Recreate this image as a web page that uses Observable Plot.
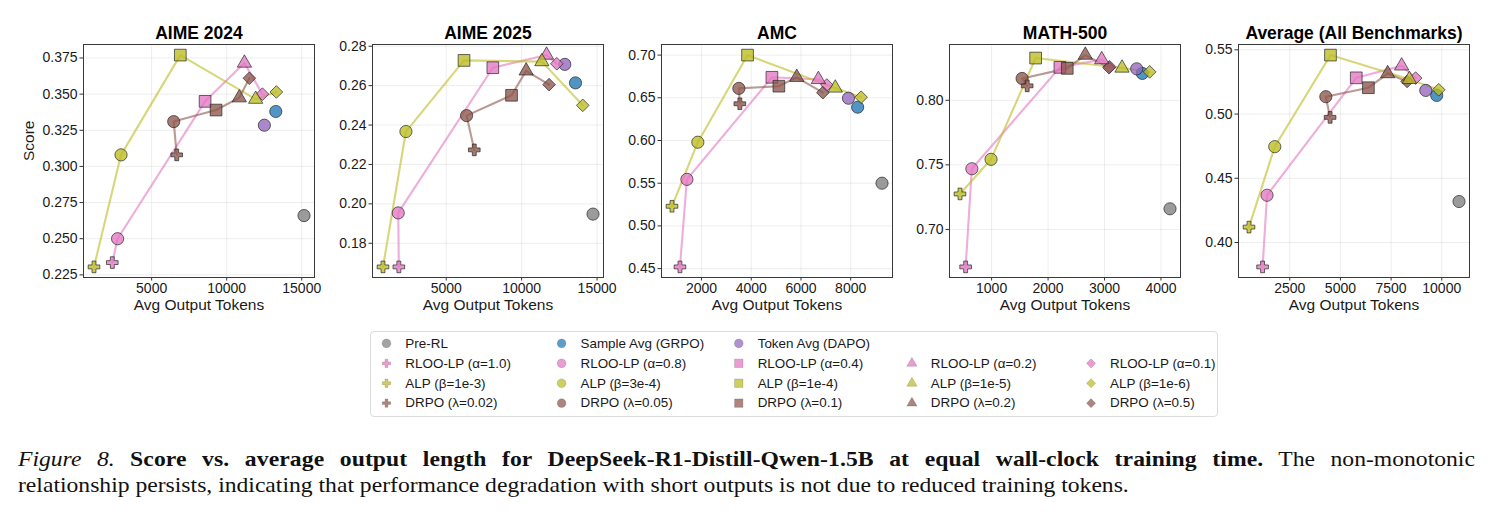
<!DOCTYPE html>
<html>
<head>
<meta charset="utf-8">
<script src="https://cdn.jsdelivr.net/npm/d3@7"></script>
<script src="https://cdn.jsdelivr.net/npm/@observablehq/plot@0.6"></script>
<style>
  html, body { margin: 0; padding: 0; background: #fff; }
  #root { position: relative; width: 1491px; height: 519px; overflow: hidden; background: #fff; }
  .panel { position: absolute; top: 0; }
  #legendBox { position: absolute; left: 370px; top: 331px; width: 848px; height: 86px;
    border: 1px solid #dcdcdc; border-radius: 4px; box-sizing: border-box; }
  #legendBox svg { position: absolute; left: -1px; top: -1px; }
  #caption { position: absolute; left: 18px; top: 446px; width: 1295px;
    transform: scaleX(1.125); transform-origin: 0 0;
    font-family: "Liberation Serif", "Times New Roman", serif; font-size: 21px; line-height: 26px; color: #111; }
  #caption .l1 { text-align: justify; text-align-last: justify; white-space: nowrap; }
  #caption .l1 b { letter-spacing: 0.08px; }
  #caption .l2 { white-space: nowrap; }
</style>
</head>
<body>
<div id="root">
  <div id="legendBox"></div>
  <div id="caption">
    <div class="l1"><i>Figure 8.</i> <b>Score vs. average output length for DeepSeek-R1-Distill-Qwen-1.5B at equal wall-clock training time.</b> The non-monotonic</div>
    <div class="l2">relationship persists, indicating that performance degradation with short outputs is not due to reduced training tokens.</div>
  </div>
</div>
<script>
// ---------------- DATA ----------------
const benchmarks = ["AIME 2024", "AIME 2025", "AMC", "MATH-500", "Average (All Benchmarks)"];

const methodLabels = [
  "Pre-RL", "Sample Avg (GRPO)", "Token Avg (DAPO)",
  "RLOO-LP (α=1.0)", "RLOO-LP (α=0.8)", "RLOO-LP (α=0.4)", "RLOO-LP (α=0.2)", "RLOO-LP (α=0.1)",
  "ALP (β=1e-3)", "ALP (β=3e-4)", "ALP (β=1e-4)", "ALP (β=1e-5)", "ALP (β=1e-6)",
  "DRPO (λ=0.02)", "DRPO (λ=0.05)", "DRPO (λ=0.1)", "DRPO (λ=0.2)", "DRPO (λ=0.5)"
];
const methodFamily = [
  "Pre-RL", "GRPO", "DAPO",
  "RLOO-LP", "RLOO-LP", "RLOO-LP", "RLOO-LP", "RLOO-LP",
  "ALP", "ALP", "ALP", "ALP", "ALP",
  "DRPO", "DRPO", "DRPO", "DRPO", "DRPO"
];
// rank within family (strength of length penalty, strongest first); -1 = baseline
const methodRank = [-1, -1, -1, 0, 1, 2, 3, 4, 0, 1, 2, 3, 4, 0, 1, 2, 3, 4];

// Avg output tokens, per benchmark (same order as methodLabels)
const tokensAIME24 = [15150, 13270, 12510, 2380, 2730, 8560, 11180, 12380, 1160, 2960, 6910, 11930, 13310, 6670, 6470, 9290, 10840, 11510];
const tokensAIME25 = [14730, 13570, 12860, 1860, 1820, 8090, 11650, 12330, 810, 2330, 6180, 11340, 14050, 6860, 6350, 9330, 10300, 11820];
const tokensAMC    = [9260, 8280, 7910, 1130, 1410, 4830, 6700, 7040, 810, 1850, 3850, 7380, 8420, 3540, 3500, 5110, 5830, 6880];
const tokensMATH   = [4160, 3670, 3570, 540, 650, 2210, 2950, 3090, 440, 990, 1780, 3310, 3800, 1630, 1540, 2340, 2660, 3080];
const tokensAvg    = [10850, 9750, 9210, 1160, 1380, 5780, 8020, 8710, 490, 1760, 4510, 8400, 9850, 4490, 4280, 6380, 7330, 8290];

// Scores, per benchmark
const scoresAIME24 = [0.266, 0.338, 0.3285, 0.2335, 0.250, 0.345, 0.3715, 0.350, 0.2305, 0.308, 0.377, 0.3465, 0.3515, 0.308, 0.331, 0.339, 0.3475, 0.361];
const scoresAIME25 = [0.1948, 0.2614, 0.2708, 0.168, 0.1954, 0.2691, 0.2755, 0.2711, 0.168, 0.2367, 0.2728, 0.2722, 0.250, 0.2274, 0.2448, 0.2551, 0.2675, 0.2605];
const scoresAMC    = [0.550, 0.639, 0.6495, 0.452, 0.5545, 0.674, 0.6715, 0.665, 0.523, 0.598, 0.700, 0.6615, 0.6507, 0.643, 0.661, 0.6636, 0.674, 0.656];
const scoresMATH   = [0.716, 0.8208, 0.8244, 0.671, 0.747, 0.8255, 0.8315, 0.826, 0.7275, 0.7543, 0.8327, 0.825, 0.822, 0.8112, 0.8169, 0.8247, 0.835, 0.8252];
const scoresAvg    = [0.4319, 0.5145, 0.5184, 0.381, 0.4368, 0.5282, 0.5375, 0.528, 0.412, 0.4746, 0.5459, 0.527, 0.5189, 0.4974, 0.5135, 0.5205, 0.5315, 0.5254];

// Tick values
const xTicksAIME24 = [5000, 10000, 15000];
const xTicksAIME25 = [5000, 10000, 15000];
const xTicksAMC    = [2000, 4000, 6000, 8000];
const xTicksMATH   = [1000, 2000, 3000, 4000];
const xTicksAvg    = [2500, 5000, 7500, 10000];
const yTicksAIME24 = [0.225, 0.250, 0.275, 0.300, 0.325, 0.350, 0.375];
const yTicksAIME25 = [0.18, 0.20, 0.22, 0.24, 0.26, 0.28];
const yTicksAMC    = [0.45, 0.50, 0.55, 0.60, 0.65, 0.70];
const yTicksMATH   = [0.70, 0.75, 0.80];
const yTicksAvg    = [0.40, 0.45, 0.50, 0.55];
const yTickFormats = [".3f", ".2f", ".2f", ".2f", ".2f"];

// ---------------- STYLE ----------------
const familyColor = {
  "Pre-RL": "#7f7f7f", "GRPO": "#1f77b4", "DAPO": "#9467bd",
  "RLOO-LP": "#e377c2", "ALP": "#bcbd22", "DRPO": "#8c564b"
};
const rankShape = ["cross", "circle", "square", "triangle", "diamond2"];
const shapeR = { cross: 4.9, circle: 6.1, square: 6.6, triangle: 5.3, diamond2: 5.7 };
const lineFamilies = ["RLOO-LP", "ALP", "DRPO"];
const FONT = "'Liberation Sans', Arial, Helvetica, sans-serif";

const allTokens = [tokensAIME24, tokensAIME25, tokensAMC, tokensMATH, tokensAvg];
const allScores = [scoresAIME24, scoresAIME25, scoresAMC, scoresMATH, scoresAvg];
const allXTicks = [xTicksAIME24, xTicksAIME25, xTicksAMC, xTicksMATH, xTicksAvg];
const allYTicks = [yTicksAIME24, yTicksAIME25, yTicksAMC, yTicksMATH, yTicksAvg];

const plotLefts = [83, 372, 661, 949, 1238];
const M = { left: 83, right: 12, top: 44, bottom: 45 };
const PW = 231, PH = 233;

function shapeOf(j) { return methodRank[j] < 0 ? "circle" : rankShape[methodRank[j]]; }

function pad(ext) { const r = ext[1] - ext[0]; return [ext[0] - 0.05 * r, ext[1] + 0.05 * r]; }

const root = document.getElementById("root");

benchmarks.forEach((bench, i) => {
  const rows = methodLabels.map((m, j) => ({
    method: m, family: methodFamily[j], rank: methodRank[j],
    tokens: allTokens[i][j], score: allScores[i][j],
    shape: shapeOf(j)
  }));
  const xDomain = pad(d3.extent(rows, d => d.tokens));
  const yDomain = pad(d3.extent(rows, d => d.score));
  const marks = [
    Plot.gridX(allXTicks[i], { stroke: "#000", strokeOpacity: 0.09, strokeWidth: 0.8 }),
    Plot.gridY(allYTicks[i], { stroke: "#000", strokeOpacity: 0.09, strokeWidth: 0.8 }),
    Plot.axisX(allXTicks[i], { tickSize: 3.5, tickPadding: 2.5, tickFormat: "d", fontSize: 14, label: null, stroke: "#333" }),
    Plot.axisY(allYTicks[i], { tickSize: 3.5, tickPadding: 2.5, tickFormat: yTickFormats[i], fontSize: 14, label: null, stroke: "#333" })
  ];
  lineFamilies.forEach(f => {
    const seq = rows.filter(d => d.family === f).sort((a, b) => a.rank - b.rank);
    marks.push(Plot.line(seq, { x: "tokens", y: "score", stroke: familyColor[f], strokeOpacity: 0.6, strokeWidth: 2.1, curve: "linear" }));
  });
  marks.push(Plot.dot(rows, {
    x: "tokens", y: "score",
    symbol: "shape",
    r: d => shapeR[d.shape],
    fill: d => familyColor[d.family], fillOpacity: 0.78,
    stroke: "#222", strokeOpacity: 0.85, strokeWidth: 0.8
  }));
  marks.push(Plot.frame({ stroke: "#3a3a3a", strokeWidth: 1 }));
  marks.push(Plot.text([bench], { text: d => d, frameAnchor: "top", lineAnchor: "bottom", dy: -6, fontSize: 17.5, fontWeight: "bold", fill: "#000" }));
  marks.push(Plot.text(["Avg Output Tokens"], { text: d => d, frameAnchor: "bottom", lineAnchor: "middle", dy: 28, fontSize: 15.5, fill: "#1a1a1a" }));
  if (i === 0) {
    marks.push(Plot.text(["Score"], { text: d => d, frameAnchor: "left", rotate: -90, dx: -54, fontSize: 15.5, fill: "#1a1a1a" }));
  }
  const svg = Plot.plot({
    width: M.left + PW + M.right,
    height: M.top + PH + M.bottom,
    marginLeft: M.left, marginRight: M.right, marginTop: M.top, marginBottom: M.bottom,
    x: { domain: xDomain, nice: false },
    y: { domain: yDomain, nice: false },
    color: { type: "identity" },
    r: { type: "identity" },
    style: { fontFamily: FONT, fontSize: "14px", color: "#1a1a1a", background: "transparent", overflow: "visible" },
    marks
  });
  svg.classList.add("panel");
  svg.style.left = (plotLefts[i] - M.left) + "px";
  svg.style.position = "absolute";
  svg.style.top = "0px";
  root.appendChild(svg);
});

// ---------------- LEGEND ----------------
const legendRows = methodLabels.map((m, j) => {
  const col = methodRank[j] < 0 ? j : methodRank[j];
  const row = methodRank[j] < 0 ? 0 : lineFamilies.indexOf(methodFamily[j]) + 1;
  return { label: m, col, row, family: methodFamily[j], shape: shapeOf(j) };
});
const legendSvg = Plot.plot({
  width: 850, height: 88,
  margin: 0,
  x: { type: "linear", domain: [0, 1, 2, 3, 4], range: [16, 192, 370, 544, 724] },
  y: { type: "linear", domain: [0, 3], range: [12, 72] },
  color: { type: "identity" },
  r: { type: "identity" },
  axis: null,
  style: { fontFamily: FONT, fontSize: "13.5px", color: "#1a1a1a", background: "transparent", overflow: "visible" },
  marks: [
    Plot.dot(legendRows, {
      x: "col", y: "row", symbol: "shape",
      r: d => shapeR[d.shape] * 0.72,
      fill: d => familyColor[d.family], fillOpacity: 0.72,
      stroke: "#444", strokeOpacity: 0.35, strokeWidth: 0.6
    }),
    Plot.text(legendRows, { x: "col", y: "row", text: "label", dx: 19, textAnchor: "start", fontSize: 13.5, fill: "#1a1a1a" })
  ]
});
document.getElementById("legendBox").appendChild(legendSvg);
</script>
</body>
</html>
